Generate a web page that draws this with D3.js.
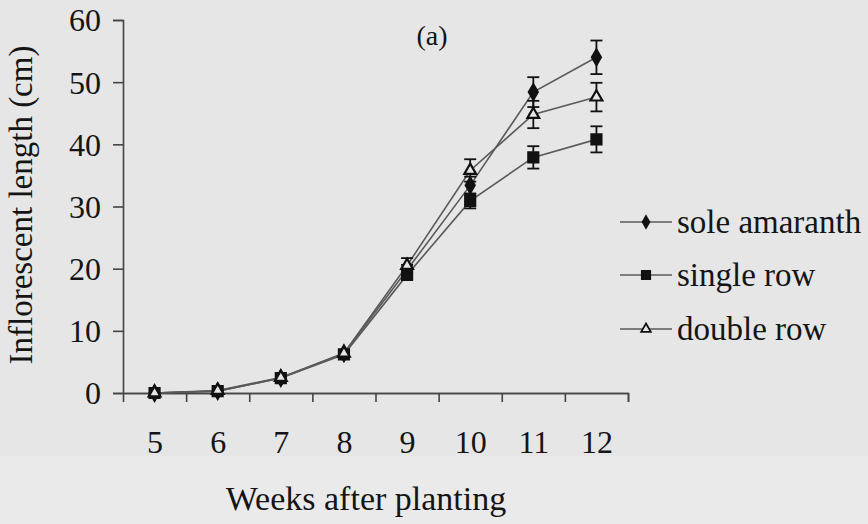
<!DOCTYPE html>
<html>
<head>
<meta charset="utf-8">
<title>Inflorescent length</title>
<script src="https://cdn.jsdelivr.net/npm/d3@7"></script>
<style>
  body { margin: 0; background: #e6e6e6; }
  text { font-family: "Liberation Serif", "DejaVu Serif", serif; fill: #151515; }
</style>
</head>
<body>
<script>
    // weeks after planting
    var weeks = [5, 6, 7, 8, 9, 10, 11, 12];
    var yTicks = [0, 10, 20, 30, 40, 50, 60];

    // mean inflorescent length (cm)
    var sole = [0, 0.3, 2.4, 6.4, 19.8, 33.4, 48.4, 54.0];
    var single = [0, 0.3, 2.4, 6.2, 19.0, 30.9, 37.9, 40.8];
    var double = [0, 0.4, 2.5, 6.4, 20.5, 35.8, 44.8, 47.6];

    // error bar half-widths
    var soleErr = [0, 0, 0.2, 0.3, 0.8, 1.4, 2.4, 2.7];
    var singleErr = [0, 0, 0.2, 0.3, 0.7, 1.2, 1.8, 2.1];
    var doubleErr = [0, 0, 0.2, 0.3, 1.2, 1.8, 2.2, 2.3];

    var names = ["sole amaranth", "single row", "double row"];
    var symbols = [d3.symbolDiamond, d3.symbolSquare, d3.symbolTriangle];

    var series = [
        { name: names[0], values: sole, err: soleErr, symbol: symbols[0], fill: "#111", size: 70 },
        { name: names[1], values: single, err: singleErr, symbol: symbols[1], fill: "#111", size: 100 },
        { name: names[2], values: double, err: doubleErr, symbol: symbols[2], fill: "#e6e6e6", size: 60 }
    ];

    var width = 868;
    var height = 524;
    var svg = d3.select("body")
        .append("svg")
        .attr("width", width)
        .attr("height", height);

    // lighter strip under the plot, as in the scan
    svg.append("rect")
        .attr("x", 0).attr("y", 456)
        .attr("width", width).attr("height", height - 456)
        .attr("fill", "#eaeaea");

    var x = d3.scaleLinear()
        .domain([4.5, 12.5])
        .range([123, 628]);
    var y = d3.scaleLinear()
        .domain([0, 60])
        .range([393, 20]);

    // y axis
    var yAxis = svg.append("g")
        .attr("transform", "translate(123,0)")
        .call(d3.axisLeft(y).tickValues(yTicks).tickSize(10).tickPadding(12));
    yAxis.selectAll("text").style("font-size", "32px").attr("dy", "0.34em");

    // x axis labels and ticks between weeks
    var xAxis = svg.append("g")
        .attr("transform", "translate(0,393)")
        .call(d3.axisBottom(x).tickValues(weeks).tickSize(0).tickPadding(50));
    xAxis.selectAll("text").style("font-size", "32px").attr("dy", "0.32em");
    svg.append("g")
        .attr("transform", "translate(0,393)")
        .call(d3.axisBottom(x)
            .tickValues(weeks.map(function (w) { return w + 0.5; }))
            .tickSize(9).tickFormat(""));

    svg.selectAll(".domain, .tick line")
        .attr("stroke", "#444")
        .attr("stroke-width", 1.6);

    // series lines
    var line = d3.line()
        .x(function (d, i) { return x(weeks[i]); })
        .y(function (d) { return y(d); });

    series.forEach(function (s) {
        svg.append("path")
            .datum(s.values)
            .attr("fill", "none")
            .attr("stroke", "#5a5a5a")
            .attr("stroke-width", 1.6)
            .attr("d", line);
    });

    // error bars and markers
    series.forEach(function (s) {
        var g = svg.append("g");
        s.values.forEach(function (v, i) {
            var e = s.err[i];
            if (e > 0.5) {
                var cx = x(weeks[i]);
                g.append("line")
                    .attr("x1", cx).attr("x2", cx)
                    .attr("y1", y(v - e)).attr("y2", y(v + e))
                    .attr("stroke", "#111").attr("stroke-width", 1.8);
                [v - e, v + e].forEach(function (t) {
                    g.append("line")
                        .attr("x1", cx - 6).attr("x2", cx + 6)
                        .attr("y1", y(t)).attr("y2", y(t))
                        .attr("stroke", "#111").attr("stroke-width", 1.8);
                });
            }
        });
        g.selectAll("path")
            .data(s.values)
            .enter()
            .append("path")
            .attr("transform", function (d, i) { return "translate(" + x(weeks[i]) + "," + y(d) + ")"; })
            .attr("d", d3.symbol().type(s.symbol).size(s.size))
            .attr("fill", s.fill)
            .attr("stroke", "#111")
            .attr("stroke-width", 2.2);
    });

    // legend
    var legendY = [222, 275, 329];
    series.forEach(function (s, i) {
        var lg = svg.append("g").attr("transform", "translate(0," + legendY[i] + ")");
        lg.append("line")
            .attr("x1", 620).attr("x2", 672)
            .attr("stroke", "#5a5a5a").attr("stroke-width", 1.6);
        lg.append("path")
            .attr("transform", "translate(646,0)")
            .attr("d", d3.symbol().type(s.symbol).size(i === 1 ? 70 : 40))
            .attr("fill", s.fill)
            .attr("stroke", "#111")
            .attr("stroke-width", 1.8);
        lg.append("text")
            .attr("x", 677)
            .attr("dy", "0.32em")
            .style("font-size", "33px")
            .text(s.name);
    });

    // titles
    svg.append("text")
        .attr("x", 432).attr("y", 45)
        .attr("text-anchor", "middle")
        .style("font-size", "28px")
        .text("(a)");

    svg.append("text")
        .attr("x", 366).attr("y", 510)
        .attr("text-anchor", "middle")
        .style("font-size", "34px")
        .text("Weeks after planting");

    svg.append("text")
        .attr("transform", "translate(32,205) rotate(-90)")
        .attr("text-anchor", "middle")
        .style("font-size", "33px")
        .text("Inflorescent length (cm)");
</script>
</body>
</html>
